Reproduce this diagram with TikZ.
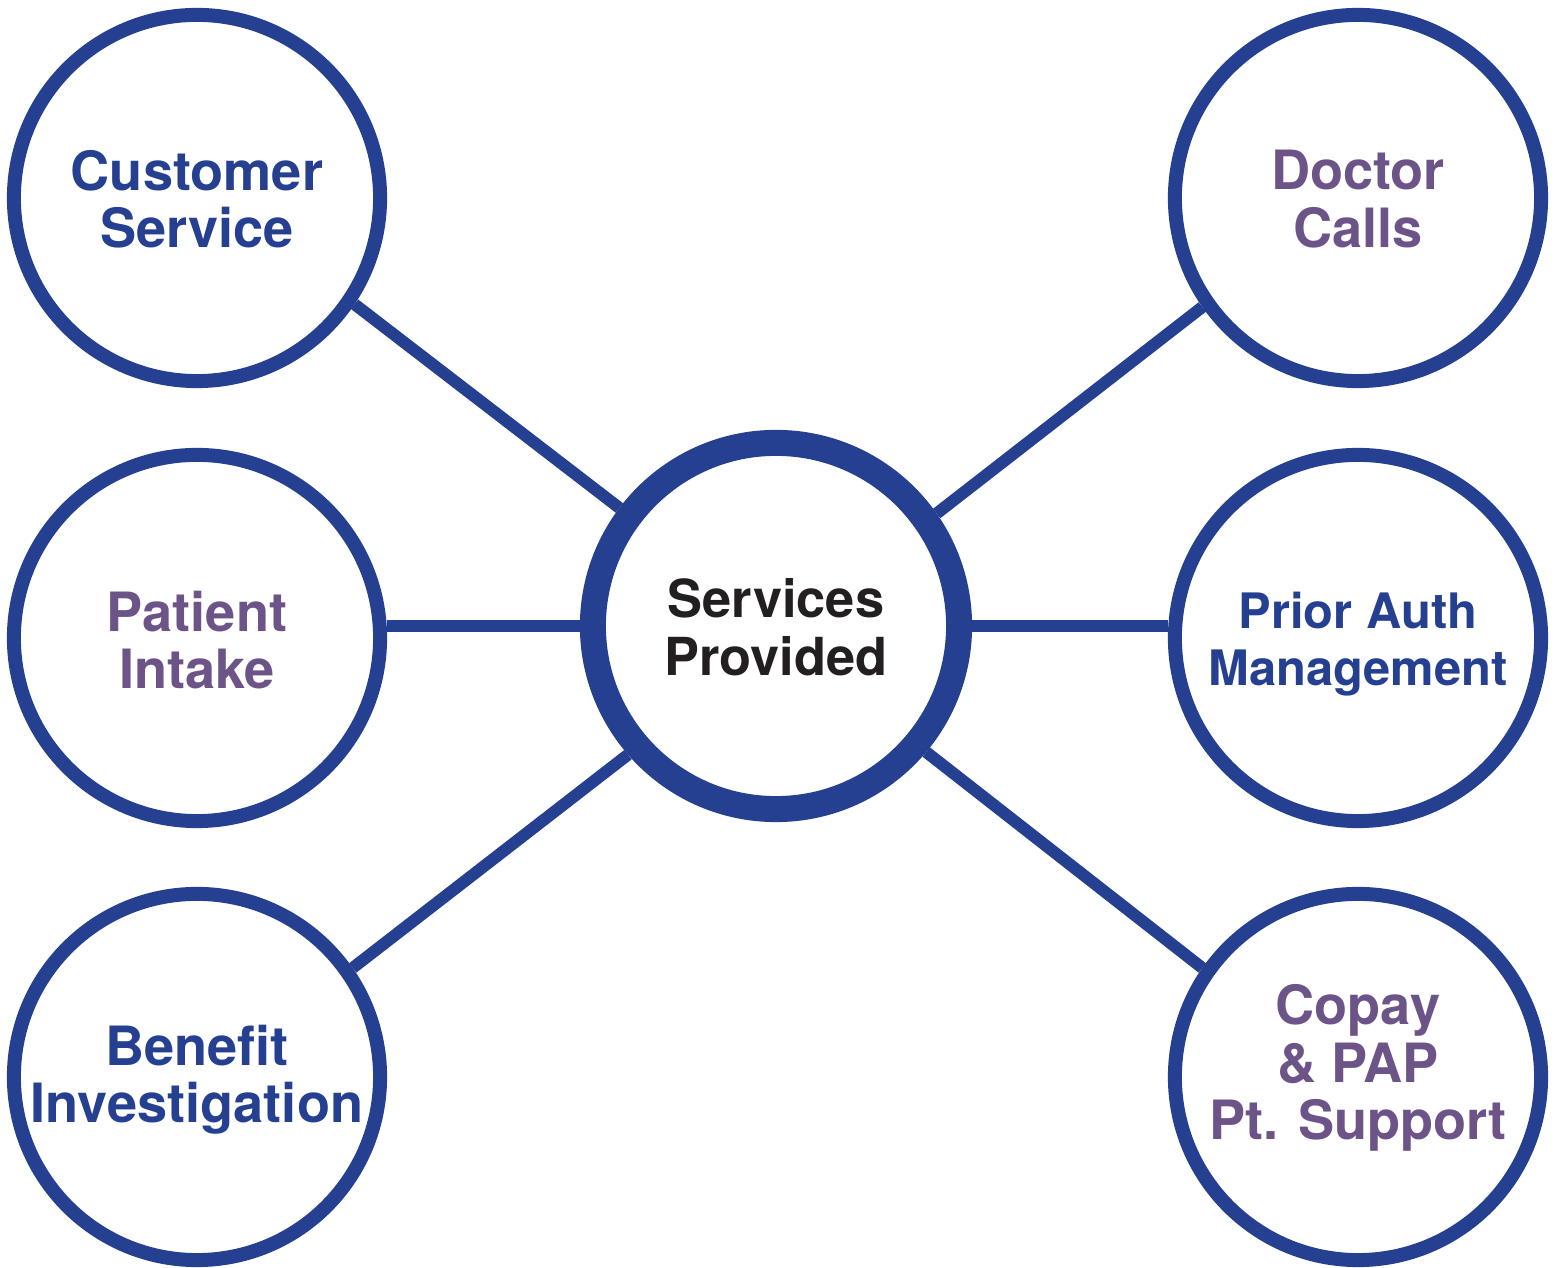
\documentclass[tikz,border=0pt]{standalone}
\usepackage{fontspec}
\setmainfont{TeX Gyre Heros}
\definecolor{dblue}{RGB}{38,64,145}
\definecolor{dpurple}{RGB}{108,84,136}
\definecolor{dblack}{RGB}{35,31,32}
\begin{document}
\begin{tikzpicture}[x=0.01cm,y=-0.01cm,
  ring/.style={circle,draw=dblue,line width=3.98pt,minimum size=3.66cm,inner sep=0pt},
  hub/.style={circle,draw=dblue,line width=7.4pt,minimum size=3.66cm,inner sep=0pt},
  link/.style={draw=dblue,line width=3.4pt},
  lbl/.style={align=center,inner sep=0pt,font=\bfseries\fontsize{15.4}{16.3}\selectfont},
  lblsmall/.style={align=center,inner sep=0pt,font=\bfseries\fontsize{13.9}{16.3}\selectfont},
  lblhub/.style={align=center,inner sep=0pt,font=\bfseries\fontsize{14.9}{16.5}\selectfont}]
\useasboundingbox (0,0) rectangle (1556,1268);
\node[hub] (c) at (776,626) {};
\node[ring] (cs) at (197,198) {};
\node[ring] (pi) at (197,638) {};
\node[ring] (bi) at (197,1077) {};
\node[ring] (dc) at (1358,198) {};
\node[ring] (pa) at (1358,638) {};
\node[ring] (cp) at (1358,1077) {};
\draw[link] (cs.-34.5) -- (c.143.2);
\draw[link] (bi.35) -- (c.221.5);
\draw[link] (dc.215) -- (c.35);
\draw[link] (cp.145) -- (c.-40.5);
\draw[link] (pi.east |- c) -- (c.west);
\draw[link] (c.east) -- (pa.west |- c);
\node[lbl,text=dblue] (tcs) at (197,199) {Customer\\Service};
\node[lbl,text=dpurple] (tpi) at (197,640) {Patient\\Intake};
\node[lbl,text=dblue] (tbi) at (197,1080) {Benefit\\Investigation};
\node[lbl,text=dpurple] (tdc) at (1358,199) {Doctor\\Calls};
\node[lblsmall,text=dblue] (tpa) at (1358,644) {Prior Auth\\Management};
\node[lbl,text=dpurple] (tcp) at (1358,1068) {Copay\\\&~PAP\\Pt. Support};
\node[lblhub,text=dblack] (tc) at (776,627) {Services\\Provided};
\end{tikzpicture}
\end{document}
